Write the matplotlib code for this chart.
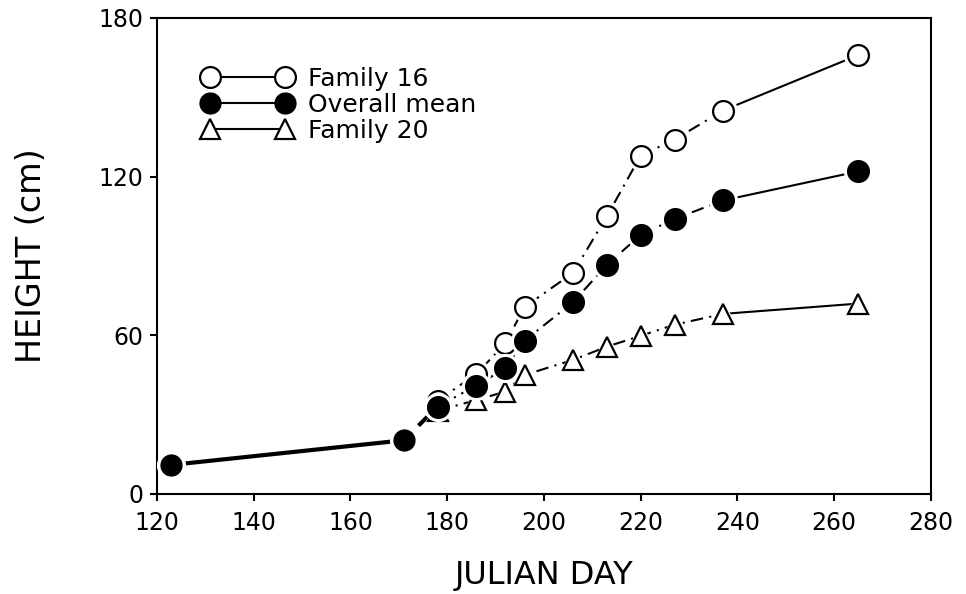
import matplotlib
matplotlib.use("Agg")
import matplotlib.pyplot as plt
from matplotlib.lines import Line2D

# values
days = [123, 171, 178, 186, 192, 196, 206, 213, 220, 227, 237, 265]
overall_mean = [11.0, 20.3, 33.0, 41.0, 47.5, 58.0, 72.5, 86.6, 98.0, 104.0, 111.0, 122.0]
family16 = [35.3, 45.3, 57.0, 70.7, 83.6, 105.0, 128.0, 134.0, 145.0, 166.0]
family20 = [31.5, 35.5, 38.7, 45.0, 50.7, 55.7, 59.8, 64.0, 68.1, 72.0]
late_days = days[2:]

xticks = [120, 140, 160, 180, 200, 220, 240, 260, 280]
yticks = [0, 60, 120, 180]

plt.rcParams['font.family'] = ['DejaVu Sans']

fig = plt.figure(figsize=(9.66, 5.94), dpi=100)
ax = fig.add_axes([0.1625, 0.1684, 0.8012, 0.8013])

dashdot = (0, (6, 3, 1, 3))

# shared early part of the curve
ax.plot(days[:2], overall_mean[:2], color='black', lw=3, solid_capstyle='butt', zorder=2)
ax.plot(days[1:3], overall_mean[1:3], color='black', lw=3, ls=(0, (3, 2)), zorder=2)

series = [
    (family16, 'o', 'white', 15, 3),
    (family20, '^', 'white', 14, 4),
    (overall_mean[2:], 'o', 'black', 15, 5),
]

for vals, mk, face, ms, z in series:
    ax.plot(late_days[:-1], vals[:-1], color='black', lw=1.5, ls=dashdot, zorder=2)
    ax.plot(late_days[-2:], vals[-2:], color='black', lw=1.5, zorder=2)

for vals, mk, face, ms, z in series:
    ax.plot(late_days, vals, ls='none', marker=mk, ms=ms + 5, mfc='white', mec='white', zorder=z)
    ax.plot(late_days, vals, ls='none', marker=mk, ms=ms, mfc=face, mec='black', mew=1.6, zorder=z + 0.5)

# first two mean points
ax.plot(days[:2], overall_mean[:2], ls='none', marker='o', ms=20, mfc='white', mec='white', zorder=5)
ax.plot(days[:2], overall_mean[:2], ls='none', marker='o', ms=15, mfc='black', mec='black', zorder=5.5)

ax.set_xlim(120, 280)
ax.set_ylim(0, 180)
ax.set_xticks(xticks)
ax.set_yticks(yticks)
ax.tick_params(direction='out', length=5, width=1.5, labelsize=17)
ax.tick_params(axis='x', pad=7)
ax.tick_params(axis='y', pad=5)
for sp in ax.spines.values():
    sp.set_linewidth(1.5)

ax.set_xlabel('JULIAN DAY', fontsize=23, labelpad=18)
ax.set_ylabel('HEIGHT (cm)', fontsize=24, labelpad=36)

handles = [
    Line2D([], [], color='black', lw=1.5, marker='o', ms=15, mfc='white', mec='black', mew=1.6),
    Line2D([], [], color='black', lw=1.5, marker='o', ms=15, mfc='black', mec='black'),
    Line2D([], [], color='black', lw=1.5, marker='^', ms=14, mfc='white', mec='black', mew=1.6),
]
ax.legend(handles, ['Family 16', 'Overall mean', 'Family 20'], loc='upper left',
          bbox_to_anchor=(0.059, 0.898), frameon=False, numpoints=2, fontsize=18,
          handlelength=3.6, handletextpad=0.6, labelspacing=0.08,
          borderpad=0, borderaxespad=0)

fig.savefig('out.png', dpi=100)
